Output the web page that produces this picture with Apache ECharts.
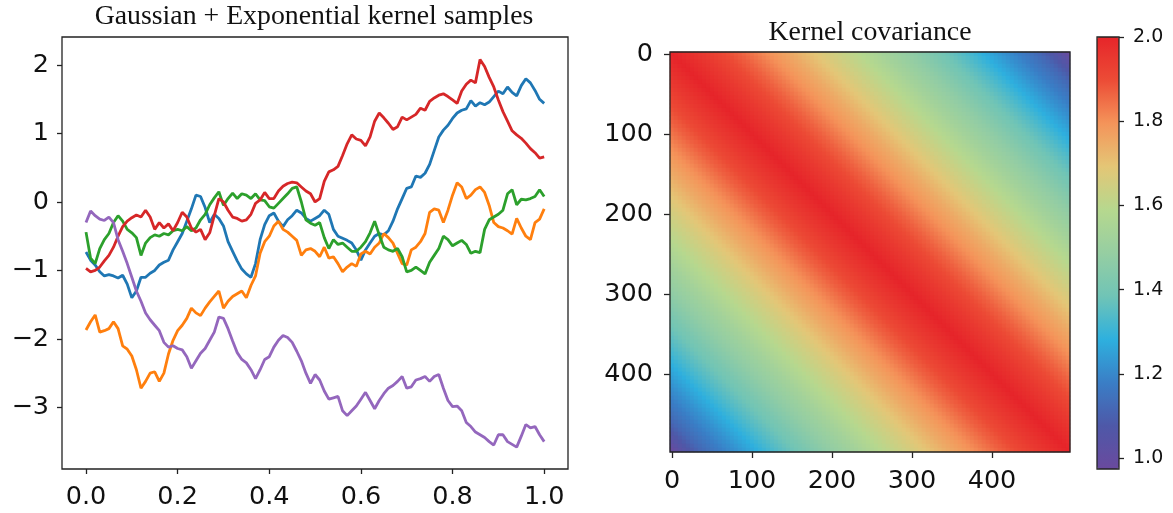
<!DOCTYPE html>
<html>
<head>
<meta charset="utf-8">
<script src="https://cdn.jsdelivr.net/npm/echarts@6.0.0/dist/echarts.min.js"></script>
<style>
html,body{margin:0;padding:0;background:#fff;}
#chart{width:1173px;height:513px;}
</style>
</head>
<body>
<div id="chart"></div>
<script>
// ---------- data ----------
const sampleT = [0,0.01,0.02,0.03,0.04,0.05,0.06,0.07,0.08,0.09,0.1,0.11,0.12,0.13,0.14,0.15,0.16,0.17,0.18,0.19,0.2,0.21,0.22,0.23,0.24,0.25,0.26,0.27,0.28,0.29,0.3,0.31,0.32,0.33,0.34,0.35,0.36,0.37,0.38,0.39,0.4,0.41,0.42,0.43,0.44,0.45,0.46,0.47,0.48,0.49,0.5,0.51,0.52,0.53,0.54,0.55,0.56,0.57,0.58,0.59,0.6,0.61,0.62,0.63,0.64,0.65,0.66,0.67,0.68,0.69,0.7,0.71,0.72,0.73,0.74,0.75,0.76,0.77,0.78,0.79,0.8,0.81,0.82,0.83,0.84,0.85,0.86,0.87,0.88,0.89,0.9,0.91,0.92,0.93,0.94,0.95,0.96,0.97,0.98,0.99,1.0];

const blueSamples = [-0.73,-0.85,-0.92,-1.02,-1.08,-1.06,-1.08,-1.11,-1.07,-1.20,-1.40,-1.30,-1.10,-1.10,-1.04,-1.00,-0.92,-0.88,-0.85,-0.70,-0.58,-0.46,-0.28,-0.10,0.10,0.08,-0.08,-0.30,-0.18,-0.24,-0.35,-0.58,-0.72,-0.86,-0.98,-1.05,-1.10,-0.90,-0.55,-0.33,-0.20,-0.16,-0.28,-0.36,-0.26,-0.20,-0.12,-0.16,-0.24,-0.28,-0.24,-0.20,-0.12,-0.18,-0.40,-0.50,-0.53,-0.56,-0.60,-0.70,-0.85,-0.70,-0.60,-0.50,-0.46,-0.48,-0.42,-0.28,-0.10,0.05,0.20,0.22,0.38,0.36,0.42,0.55,0.75,0.95,1.05,1.12,1.22,1.30,1.34,1.36,1.48,1.40,1.45,1.42,1.46,1.54,1.62,1.58,1.68,1.60,1.55,1.70,1.80,1.74,1.63,1.50,1.44];

const orangeSamples = [-1.87,-1.75,-1.65,-1.90,-1.88,-1.85,-1.75,-1.85,-2.10,-2.15,-2.25,-2.45,-2.72,-2.62,-2.50,-2.48,-2.62,-2.50,-2.22,-2.02,-1.88,-1.80,-1.70,-1.55,-1.62,-1.66,-1.55,-1.46,-1.38,-1.30,-1.55,-1.45,-1.38,-1.34,-1.30,-1.40,-1.22,-1.08,-0.75,-0.58,-0.50,-0.35,-0.28,-0.40,-0.44,-0.50,-0.56,-0.78,-0.70,-0.68,-0.72,-0.80,-0.66,-0.82,-0.80,-0.90,-1.02,-0.95,-0.90,-0.94,-0.76,-0.72,-0.76,-0.66,-0.60,-0.46,-0.52,-0.60,-0.75,-0.90,-0.92,-0.70,-0.66,-0.58,-0.46,-0.15,-0.10,-0.12,-0.30,-0.12,0.10,0.28,0.22,0.05,0.10,0.18,0.22,0.14,-0.05,-0.30,-0.36,-0.38,-0.42,-0.47,-0.24,-0.38,-0.50,-0.55,-0.30,-0.25,-0.10];

const greenSamples = [-0.44,-0.82,-0.90,-0.68,-0.55,-0.46,-0.30,-0.20,-0.28,-0.40,-0.45,-0.52,-0.78,-0.60,-0.52,-0.48,-0.50,-0.46,-0.48,-0.42,-0.40,-0.42,-0.36,-0.42,-0.38,-0.26,-0.18,-0.04,0.06,0.15,-0.05,0.05,0.13,0.05,0.12,0.10,0.05,0.12,0.03,0.02,-0.07,-0.09,-0.02,0.05,0.12,0.20,0.22,0.00,-0.26,-0.31,-0.34,-0.30,-0.52,-0.68,-0.55,-0.62,-0.60,-0.66,-0.72,-0.72,-0.66,-0.58,-0.45,-0.28,-0.48,-0.66,-0.70,-0.72,-0.68,-0.80,-1.02,-1.00,-0.95,-1.00,-1.05,-0.88,-0.78,-0.68,-0.50,-0.55,-0.64,-0.60,-0.56,-0.62,-0.75,-0.72,-0.74,-0.40,-0.26,-0.22,-0.18,-0.12,0.12,0.18,-0.04,0.04,0.03,0.05,0.08,0.18,0.08];

const redSamples = [-0.97,-1.02,-1.00,-0.95,-0.86,-0.78,-0.66,-0.50,-0.36,-0.28,-0.23,-0.19,-0.22,-0.12,-0.22,-0.40,-0.30,-0.38,-0.32,-0.42,-0.30,-0.15,-0.22,-0.38,-0.44,-0.40,-0.55,-0.45,-0.20,0.05,0.00,-0.12,-0.22,-0.24,-0.28,-0.26,-0.18,-0.02,0.03,0.14,0.05,0.05,0.16,0.23,0.27,0.29,0.28,0.22,0.16,0.12,0.00,0.05,0.30,0.44,0.47,0.52,0.68,0.85,0.98,0.92,0.90,0.82,0.95,1.18,1.30,1.23,1.15,1.06,1.10,1.24,1.20,1.24,1.28,1.37,1.34,1.47,1.52,1.56,1.58,1.54,1.49,1.44,1.62,1.72,1.78,1.74,2.08,1.98,1.82,1.68,1.49,1.32,1.18,1.04,0.98,0.93,0.86,0.78,0.72,0.64,0.66];

const purpleSamples = [-0.30,-0.13,-0.20,-0.25,-0.27,-0.22,-0.30,-0.55,-0.72,-0.90,-1.10,-1.30,-1.45,-1.62,-1.72,-1.80,-1.88,-2.05,-2.12,-2.10,-2.14,-2.16,-2.26,-2.43,-2.32,-2.21,-2.14,-2.02,-1.90,-1.68,-1.70,-1.85,-2.03,-2.20,-2.30,-2.35,-2.45,-2.58,-2.45,-2.30,-2.26,-2.12,-2.02,-1.95,-1.98,-2.05,-2.18,-2.32,-2.50,-2.65,-2.52,-2.60,-2.76,-2.88,-2.86,-2.84,-3.05,-3.12,-3.05,-2.98,-2.88,-2.78,-2.90,-3.02,-2.90,-2.80,-2.72,-2.68,-2.62,-2.55,-2.72,-2.70,-2.60,-2.58,-2.55,-2.62,-2.55,-2.52,-2.72,-2.90,-2.99,-2.98,-3.05,-3.22,-3.28,-3.36,-3.40,-3.44,-3.50,-3.55,-3.40,-3.40,-3.50,-3.54,-3.58,-3.42,-3.25,-3.30,-3.28,-3.40,-3.50];

const lineXTicks = [0, 0.2, 0.4, 0.6, 0.8, 1.0];
const lineYTicks = [-3, -2, -1, 0, 1, 2];

const kernelLag = [2.000,1.994,1.987,1.980,1.973,1.966,1.959,1.952,1.945,1.938,1.930,1.922,1.913,1.904,1.895,1.886,1.878,1.870,1.860,1.850,1.840,1.830,1.820,1.810,1.800,1.792,1.783,1.775,1.767,1.758,1.750,1.740,1.730,1.720,1.710,1.700,1.690,1.680,1.670,1.661,1.652,1.643,1.635,1.626,1.617,1.608,1.600,1.590,1.580,1.570,1.560,1.550,1.540,1.530,1.521,1.512,1.504,1.495,1.486,1.478,1.470,1.460,1.450,1.440,1.430,1.420,1.410,1.400,1.390,1.380,1.370,1.360,1.350,1.339,1.327,1.316,1.304,1.292,1.280,1.268,1.257,1.245,1.233,1.221,1.210,1.199,1.188,1.177,1.165,1.154,1.143,1.131,1.120,1.104,1.088,1.070,1.051,1.031,1.010,0.988];
const kernelStep = 5;
const heatTickLabels = ['0', '100', '200', '300', '400'];
const colorbarTicks = [1.0, 1.2, 1.4, 1.6, 1.8, 2.0];
const colorMin = 0.974, colorMax = 2.0;

// ---------- build ----------
const N = kernelLag.length;
const heatCats = [];
for (let k = 0; k < N; k++) heatCats.push(String(k * kernelStep));
const heatData = [];
for (let r = 0; r < N; r++) {
  for (let c = 0; c < N; c++) {
    heatData.push([c, r, kernelLag[Math.abs(r - c)]]);
  }
}
const pair = arr => sampleT.map((t, i) => [t, arr[i]]);
const minus = v => (v < 0 ? '\u2212' + Math.abs(v) : String(v));
const tickFont = 'DejaVu Sans';
const labelShow = (idx, val) => heatTickLabels.indexOf(val) >= 0;
const LW = 2.8;

const lineCommon = { type: 'line', showSymbol: false, symbol: 'none', xAxisIndex: 0, yAxisIndex: 0,
  emphasis: { disabled: true }, silent: true };

const chart = echarts.init(document.getElementById('chart'), null, { renderer: 'canvas' });
chart.setOption({
  animation: false,
  backgroundColor: '#fff',
  textStyle: { fontFamily: tickFont },
  title: [
    { text: 'Gaussian + Exponential kernel samples', left: 314, top: 3, textAlign: 'center', padding: 0,
      textStyle: { fontFamily: 'Liberation Serif', fontSize: 27.8, fontWeight: 'normal', color: '#111' } },
    { text: 'Kernel covariance', left: 870, top: 19, textAlign: 'center', padding: 0,
      textStyle: { fontFamily: 'Liberation Serif', fontSize: 27.8, fontWeight: 'normal', color: '#111' } }
  ],
  grid: [
    { left: 62, top: 37, width: 506, height: 432, show: true, borderColor: '#222', borderWidth: 1.3, backgroundColor: 'transparent' },
    { left: 670, top: 52, width: 400, height: 400, show: true, borderColor: '#222', borderWidth: 1.3, backgroundColor: 'transparent', z: 10 },
    { left: 1097, top: 37, width: 22, height: 432, show: true, borderColor: '#222', borderWidth: 1.3, backgroundColor: 'transparent', z: 10 }
  ],
  xAxis: [
    { gridIndex: 0, type: 'value', min: -0.0524, max: 1.052,
      axisLine: { show: false, onZero: false }, splitLine: { show: false },
      axisTick: { show: true, inside: false, customValues: lineXTicks, length: 5, lineStyle: { color: '#222', width: 1.3 } },
      axisLabel: { customValues: lineXTicks, formatter: v => v.toFixed(1), fontSize: 25.5, color: '#111', margin: 15, fontFamily: tickFont } },
    { gridIndex: 1, type: 'category', data: heatCats, boundaryGap: true,
      axisLine: { show: false, onZero: false }, splitLine: { show: false },
      axisTick: { show: true, alignWithLabel: true, interval: labelShow, length: 6, lineStyle: { color: '#222', width: 1.3 } },
      axisLabel: { interval: labelShow, fontSize: 25.5, color: '#111', margin: 16, fontFamily: tickFont } },
    { gridIndex: 2, type: 'value', min: 0, max: 1, show: false }
  ],
  yAxis: [
    { gridIndex: 0, type: 'value', min: -3.90, max: 2.41,
      axisLine: { show: false, onZero: false }, splitLine: { show: false },
      axisTick: { show: true, inside: false, customValues: lineYTicks, length: 5, lineStyle: { color: '#222', width: 1.3 } },
      axisLabel: { customValues: lineYTicks, formatter: minus, fontSize: 25.5, color: '#111', margin: 13, fontFamily: tickFont } },
    { gridIndex: 1, type: 'category', data: heatCats, inverse: true, boundaryGap: true,
      axisLine: { show: false, onZero: false }, splitLine: { show: false },
      axisTick: { show: true, alignWithLabel: true, interval: labelShow, length: 6, lineStyle: { color: '#222', width: 1.3 } },
      axisLabel: { interval: labelShow, fontSize: 25.5, color: '#111', margin: 17, fontFamily: tickFont } },
    { gridIndex: 2, type: 'value', min: colorMin, max: colorMax, position: 'right',
      axisLine: { show: false, onZero: false }, splitLine: { show: false },
      axisTick: { show: true, customValues: colorbarTicks, length: 5, lineStyle: { color: '#222', width: 1.3 } },
      axisLabel: { customValues: colorbarTicks, formatter: v => v.toFixed(1), fontSize: 19, color: '#111', margin: 14, fontFamily: tickFont } }
  ],
  visualMap: {
    type: 'continuous', seriesIndex: 5, min: colorMin, max: colorMax,
    orient: 'vertical', left: 1097, top: 37, itemWidth: 22, itemHeight: 432, padding: 0,
    calculable: false, hoverLink: false, text: null, showLabel: false,
    inRange: { color: ['#6a4a9e', '#4e58a8', '#3a7ec6', '#2eb0de', '#70c4b6', '#96cea2', '#b6d88e', '#e4c676', '#f4945a', '#ec4c36', '#e6252a'] }
  },
  series: [
    Object.assign({}, lineCommon, { name: 'sample 1', data: pair(blueSamples), itemStyle: { color: '#1f77b4' }, lineStyle: { width: LW, color: '#1f77b4' } }),
    Object.assign({}, lineCommon, { name: 'sample 2', data: pair(orangeSamples), itemStyle: { color: '#ff7f0e' }, lineStyle: { width: LW, color: '#ff7f0e' } }),
    Object.assign({}, lineCommon, { name: 'sample 3', data: pair(greenSamples), itemStyle: { color: '#2ca02c' }, lineStyle: { width: LW, color: '#2ca02c' } }),
    Object.assign({}, lineCommon, { name: 'sample 4', data: pair(redSamples), itemStyle: { color: '#d62728' }, lineStyle: { width: LW, color: '#d62728' } }),
    Object.assign({}, lineCommon, { name: 'sample 5', data: pair(purpleSamples), itemStyle: { color: '#9467bd' }, lineStyle: { width: LW, color: '#9467bd' } }),
    { type: 'heatmap', name: 'covariance', xAxisIndex: 1, yAxisIndex: 1, data: heatData,
      progressive: 0, silent: true, emphasis: { disabled: true } }
  ]
});
</script>
</body>
</html>
